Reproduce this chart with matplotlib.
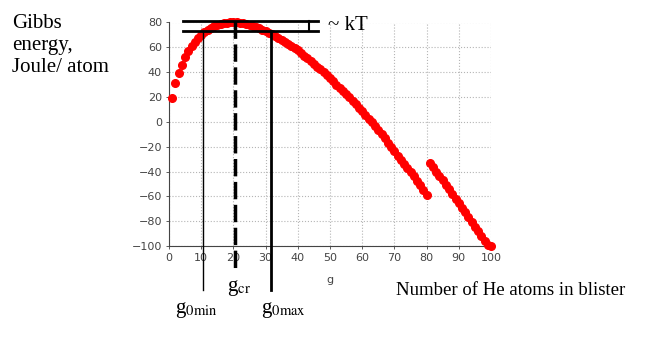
import numpy as np
import matplotlib
matplotlib.use("Agg")
import matplotlib.pyplot as plt

# Gibbs energy of a He blister vs. number of He atoms g
g_first = np.arange(1, 81)
G_first = np.array([
    19.4, 31.0, 39.0, 45.7, 52.4, 57.0, 61.0, 64.5, 67.5, 70.3,
    72.5, 74.3, 75.8, 77.0, 78.0, 78.8, 79.4, 79.8, 80.0, 80.1,
    80.0, 79.7, 79.3, 78.8, 78.1, 77.3, 76.4, 75.4, 74.3, 73.1,
    71.8, 70.4, 69.0, 67.5, 66.0, 64.4, 62.8, 61.1, 59.4, 57.7,
    55.5, 53.4, 51.2, 49.0, 46.8, 44.5, 42.2, 39.8, 37.4, 35.0,
    32.5, 30.0, 27.4, 24.8, 22.2, 19.6, 16.9, 14.2, 11.2, 8.5,
    5.5, 2.5, -0.5, -3.5, -6.6, -10.0, -13.3, -16.8, -20.3, -23.8,
    -27.3, -30.8, -34.2, -37.5, -40.8, -44.0, -47.3, -50.7, -54.5, -59.0,
])
g_second = np.arange(81, 101)
G_second = np.array([
    -33.0, -36.5, -40.0, -43.6, -47.0, -50.5, -54.0, -58.0, -61.8, -65.5,
    -69.2, -73.0, -76.8, -80.6, -84.4, -88.2, -92.0, -96.0, -99.5, -100.0,
])

# marked levels
g0_min = 10.6
g_cr = 20.5
g0_max = 31.6
G_top = 81.3
G_kT = 73.3

W, H = 647, 340
fig = plt.figure(figsize=(W / 100, H / 100), dpi=100)
ax = fig.add_axes([169 / W, 1 - 246 / H, 322 / W, 223.5 / H])

grey = "#444444"
ax.plot(g_first, G_first, "o", color="red", ms=5.5, mec="red", clip_on=False, zorder=3)
ax.plot(g_second, G_second, "o", color="red", ms=5.5, mec="red", clip_on=False, zorder=3)

ax.set_xlim(0, 100)
ax.set_ylim(-100, 80)
ax.set_xticks(np.arange(0, 101, 10))
ax.set_yticks(np.arange(-100, 81, 20))
ax.yaxis.set_major_formatter(plt.FuncFormatter(lambda v, p: f"{v:.0f}".replace("-", "\u2212")))
ax.grid(True, linestyle=":", color="#b5b5b5", linewidth=0.8)
ax.tick_params(labelsize=8, colors=grey, length=2, width=0.6, pad=3)
for side in ("top", "right"):
    ax.spines[side].set_visible(False)
for side in ("left", "bottom"):
    ax.spines[side].set_color(grey)
    ax.spines[side].set_linewidth(0.8)
ax.set_xlabel("g", fontsize=8, color=grey, labelpad=9)

# kT band and the vertical markers
ax.plot([4.4, 46.3], [G_top, G_top], color="black", lw=2, clip_on=False, zorder=4)
ax.plot([4.4, 46.3], [G_kT, G_kT], color="black", lw=2, clip_on=False, zorder=4)
ax.plot([43.5, 43.5], [G_kT, G_top], color="black", lw=1.5, clip_on=False, zorder=4)
ax.plot([g0_min, g0_min], [G_kT, -135.4], color="black", lw=1, clip_on=False, zorder=4)
ax.plot([g_cr, g_cr], [G_top, -119.2], color="black", lw=2.5, dashes=(5, 1.6), clip_on=False, zorder=4)
ax.plot([g0_max, g0_max], [G_kT, -135.4], color="black", lw=2, clip_on=False, zorder=4)

serif = "Liberation Serif"
plt.rcParams["mathtext.fontset"] = "stix"


def px(x, y):
    return x / W, 1 - y / H


fig.text(*px(12, 28), "Gibbs", family=serif, fontsize=15, va="baseline")
fig.text(*px(12, 50), "energy,", family=serif, fontsize=15, va="baseline")
fig.text(*px(12, 72), "Joule/ atom", family=serif, fontsize=15, va="baseline")
fig.text(*px(328, 30), "~ kT", family=serif, fontsize=15, va="baseline")
fig.text(*px(396, 295), "Number of He atoms in blister", family=serif, fontsize=13.5, va="baseline")
fig.text(*px(227, 291), r"g$_{\mathrm{cr}}$", family=serif, fontsize=15, va="baseline")
fig.text(*px(175, 313), r"g$_{\mathrm{0min}}$", family=serif, fontsize=15, va="baseline")
fig.text(*px(261, 313), r"g$_{\mathrm{0max}}$", family=serif, fontsize=15, va="baseline")

fig.savefig("out.png", dpi=100)
